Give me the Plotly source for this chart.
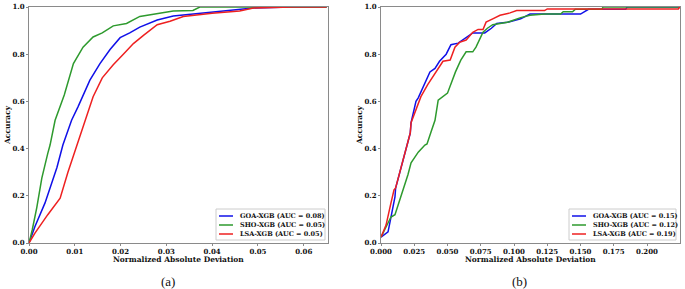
import plotly.graph_objects as go

W, H = 685, 289

series_names = ["GOA-XGB", "SHO-XGB", "LSA-XGB"]
series_colors = ["#1010e8", "#2e9a2e", "#ee2020"]

# ---- panel (a) ----
auc_a = [0.08, 0.05, 0.05]
goa_a_x = [0, 0.0013, 0.0035, 0.0061, 0.0074, 0.0085, 0.0093, 0.0107, 0.0133, 0.0155, 0.0177, 0.0199, 0.022, 0.0242, 0.028, 0.0315, 0.0358, 0.041, 0.046, 0.049, 0.057, 0.065]
goa_a_y = [0, 0.07, 0.17, 0.32, 0.415, 0.48, 0.52, 0.577, 0.69, 0.76, 0.82, 0.87, 0.89, 0.915, 0.945, 0.962, 0.97, 0.978, 0.99, 0.996, 1.0, 1.0]
sho_a_x = [0, 0.0007, 0.0017, 0.0028, 0.0041, 0.0046, 0.0057, 0.0077, 0.0097, 0.0118, 0.014, 0.016, 0.0184, 0.0213, 0.0242, 0.0286, 0.0315, 0.0358, 0.0373, 0.065]
sho_a_y = [0, 0.055, 0.15, 0.275, 0.38, 0.415, 0.52, 0.627, 0.76, 0.83, 0.873, 0.89, 0.92, 0.93, 0.96, 0.972, 0.983, 0.985, 1.0, 1.0]
lsa_a_x = [0, 0.0013, 0.0041, 0.0068, 0.0085, 0.0105, 0.0122, 0.014, 0.016, 0.0184, 0.0206, 0.0228, 0.025, 0.028, 0.0308, 0.0337, 0.040, 0.046, 0.049, 0.0577, 0.065]
lsa_a_y = [0, 0.042, 0.12, 0.19, 0.30, 0.415, 0.52, 0.62, 0.70, 0.755, 0.80, 0.845, 0.88, 0.925, 0.94, 0.96, 0.973, 0.983, 0.996, 1.0, 1.0]

# ---- panel (b) ----
auc_b = [0.15, 0.12, 0.19]
goa_b_x = [0, 0.0053, 0.0075, 0.0105, 0.011, 0.014, 0.018, 0.022, 0.0226, 0.0263, 0.028, 0.033, 0.0368, 0.0406, 0.044, 0.049, 0.0526, 0.058, 0.065, 0.069, 0.078, 0.083, 0.087, 0.095, 0.105, 0.112, 0.15, 0.156, 0.184, 0.185, 0.2248]
goa_b_y = [0.025, 0.047, 0.11, 0.195, 0.233, 0.30, 0.38, 0.466, 0.51, 0.60, 0.615, 0.68, 0.725, 0.74, 0.77, 0.80, 0.84, 0.847, 0.873, 0.89, 0.89, 0.91, 0.93, 0.935, 0.95, 0.97, 0.97, 0.99, 0.99, 1.0, 1.0]
sho_b_x = [0, 0.0038, 0.0075, 0.0105, 0.015, 0.0203, 0.0226, 0.028, 0.033, 0.0346, 0.0376, 0.0406, 0.043, 0.048, 0.05, 0.056, 0.06, 0.064, 0.069, 0.0714, 0.0744, 0.0767, 0.08, 0.084, 0.095, 0.105, 0.112, 0.123, 0.135, 0.137, 0.144, 0.146, 0.166, 0.167, 0.2248]
sho_b_y = [0.025, 0.068, 0.11, 0.12, 0.195, 0.29, 0.34, 0.385, 0.415, 0.42, 0.47, 0.52, 0.605, 0.627, 0.635, 0.725, 0.775, 0.81, 0.81, 0.83, 0.87, 0.893, 0.91, 0.925, 0.935, 0.955, 0.965, 0.97, 0.97, 0.98, 0.98, 0.99, 0.99, 1.0, 1.0]
lsa_b_x = [0, 0.0038, 0.0075, 0.0098, 0.011, 0.014, 0.018, 0.022, 0.0226, 0.028, 0.03, 0.035, 0.041, 0.0466, 0.052, 0.0556, 0.059, 0.064, 0.069, 0.073, 0.0767, 0.079, 0.084, 0.0895, 0.097, 0.102, 0.123, 0.125, 0.2236, 0.2246]
lsa_b_y = [0.025, 0.076, 0.17, 0.225, 0.233, 0.30, 0.38, 0.466, 0.51, 0.595, 0.62, 0.67, 0.72, 0.77, 0.775, 0.83, 0.85, 0.86, 0.893, 0.905, 0.905, 0.936, 0.95, 0.965, 0.975, 0.985, 0.985, 0.992, 0.992, 1.0]

x_ticks_a = [0.00, 0.01, 0.02, 0.03, 0.04, 0.05, 0.06]
x_ticks_b = [0.000, 0.025, 0.050, 0.075, 0.100, 0.125, 0.150, 0.175, 0.200]
y_ticks = [0.0, 0.2, 0.4, 0.6, 0.8, 1.0]
x_title = "Normalized Absolute Deviation"
y_title = "Accuracy"
panel_labels = ["(a)", "(b)"]

SERIF = "DejaVu Serif"
def px(x):
    return x / W
def py(y):
    return 1 - y / H

fig = go.Figure()
data_a = [(goa_a_x, goa_a_y), (sho_a_x, sho_a_y), (lsa_a_x, lsa_a_y)]
data_b = [(goa_b_x, goa_b_y), (sho_b_x, sho_b_y), (lsa_b_x, lsa_b_y)]
for (xs, ys), c in zip(data_a, series_colors):
    fig.add_trace(go.Scatter(x=xs, y=ys, mode="lines", line=dict(color=c, width=1.5),
                             xaxis="x", yaxis="y", showlegend=False, cliponaxis=False))
for (xs, ys), c in zip(data_b, series_colors):
    fig.add_trace(go.Scatter(x=xs, y=ys, mode="lines", line=dict(color=c, width=1.5),
                             xaxis="x2", yaxis="y2", showlegend=False, cliponaxis=False))

ydom = [py(243), py(7)]
axis_common = dict(showline=True, mirror=True, linecolor="#8a8a8a", linewidth=1,
                   showgrid=False, zeroline=False, ticks="outside", ticklen=2,
                   tickcolor="#8a8a8a", tickwidth=1, automargin=False,
                   tickfont=dict(family=SERIF, size=7, color="#111", weight="bold"))
fig.update_layout(
    width=W, height=H, margin=dict(l=0, r=0, t=0, b=0, autoexpand=False),
    paper_bgcolor="white", plot_bgcolor="white",
    xaxis=dict(domain=[px(29), px(328)], range=[0, 0.0653], tickvals=x_ticks_a,
               tickformat=".2f", anchor="y", **axis_common),
    yaxis=dict(domain=ydom, range=[0, 1], tickvals=y_ticks, tickformat=".1f",
               anchor="x", **axis_common),
    xaxis2=dict(domain=[px(381), px(680)], range=[0, 0.2248], tickvals=x_ticks_b,
                tickformat=".3f", anchor="y2", **axis_common),
    yaxis2=dict(domain=ydom, range=[0, 1], tickvals=y_ticks, tickformat=".1f",
                anchor="x2", **axis_common),
)

shapes = []
annotations = []
label_font = dict(family=SERIF, size=7.5, color="#111", weight="bold")
for cx, ax_x, lab in [(178.5, 8, panel_labels[0]), (530.5, 360, panel_labels[1])]:
    annotations.append(dict(x=px(cx), y=py(259), xref="paper", yref="paper", text=x_title,
                            showarrow=False, font=label_font, xanchor="center", yanchor="middle"))
    annotations.append(dict(x=px(ax_x), y=py(125), xref="paper", yref="paper", text=y_title,
                            textangle=-90, showarrow=False, font=label_font,
                            xanchor="center", yanchor="middle"))
    annotations.append(dict(x=px(cx - 11), y=py(281), xref="paper", yref="paper", text=lab,
                            showarrow=False, font=dict(family="Liberation Serif", size=13, color="#111"),
                            xanchor="center", yanchor="middle"))

# custom compact legends
for (bx0, bx1, lx0, lx1, tx), aucs in [((216, 325, 219, 233, 238), auc_a),
                                       ((569, 676, 572, 586, 591), auc_b)]:
    shapes.append(dict(type="rect", xref="paper", yref="paper",
                       x0=px(bx0), x1=px(bx1), y0=py(240), y1=py(209),
                       line=dict(color="#cccccc", width=1), fillcolor="rgba(255,255,255,0.85)"))
    for i, (name, c, a) in enumerate(zip(series_names, series_colors, aucs)):
        yy = 216 + 9 * i
        shapes.append(dict(type="line", xref="paper", yref="paper",
                           x0=px(lx0), x1=px(lx1), y0=py(yy), y1=py(yy),
                           line=dict(color=c, width=1.5)))
        annotations.append(dict(x=px(tx), y=py(yy), xref="paper", yref="paper",
                                text=f"{name} (AUC = {a:.2f})", showarrow=False,
                                font=dict(family=SERIF, size=6.5, color="#111", weight="bold"),
                                xanchor="left", yanchor="middle"))

fig.update_layout(shapes=shapes, annotations=annotations)
fig.write_html("out.html", config={"displayModeBar": False},
               post_script="document.body.style.margin='0';document.body.style.overflow='hidden';")
